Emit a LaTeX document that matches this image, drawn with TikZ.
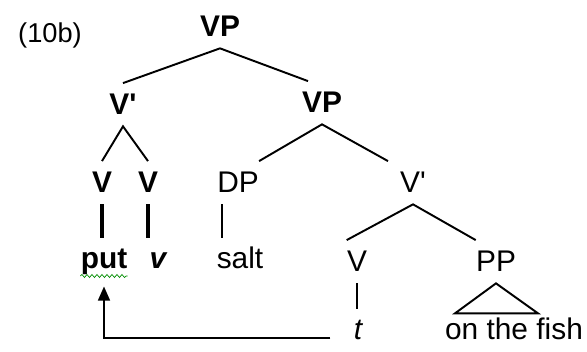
\documentclass[tikz,border=0pt]{standalone}
\usepackage{fontspec}
\setmainfont{Liberation Sans}
\usetikzlibrary{arrows.meta, decorations.pathmorphing}

\begin{document}
\begin{tikzpicture}[
        cat/.style={font=\fontsize{17}{20}\selectfont\bfseries, anchor=base, inner xsep=0pt, inner ysep=0.22cm},
        word/.style={font=\fontsize{17}{20}\selectfont, anchor=base, inner xsep=0pt, inner ysep=0.22cm},
        branch/.style={line width=1.1pt},
        thinbranch/.style={line width=0.6pt},
        headbar/.style={line width=1.8pt},
        trace/.style={line width=0.9pt, -{Triangle[length=0.28cm, width=0.24cm]}},
        squiggle/.style={green!55!black, line width=0.4pt, decorate,
            decoration={snake, amplitude=0.03cm, segment length=0.1cm}}
    ]
        \useasboundingbox (0, 0) rectangle (11.74, 7.04);

        \node[font=\fontsize{15.5}{18}\selectfont, anchor=base west] (ex) at (0.24, 6.18) {(10b)};

        % upper shell
        \node[cat] (vp1) at (4.40, 6.30) {VP};
        \node[cat] (vbar1) at (2.46, 4.74) {V\textquotesingle};
        \node[cat] (vp2) at (6.44, 4.78) {VP};
        \node[cat] (v1) at (2.04, 3.18) {V};
        \node[cat] (v2) at (2.96, 3.18) {V};
        \node[cat] (put) at (2.08, 1.66) {put};
        \node[cat, font=\fontsize{17}{20}\selectfont\bfseries\itshape] (lv) at (3.16, 1.66) {v};

        % lower shell
        \node[word] (dp) at (4.76, 3.18) {DP};
        \node[word] (salt) at (4.80, 1.66) {salt};
        \node[word] (vbar2) at (8.26, 3.18) {V\textquotesingle};
        \node[word] (v3) at (7.14, 1.60) {V};
        \node[word] (pp) at (9.92, 1.60) {PP};
        \node[word, font=\fontsize{17}{20}\selectfont\itshape] (t) at (7.16, 0.24) {t};
        \node[word] (fish) at (10.28, 0.24) {on the fish};

        \draw[branch] (vbar1.north) -- (vp1.south) -- ([xshift=-0.28cm]vp2.north);
        \draw[branch] (v1.north) -- (vbar1.south) -- (v2.north);
        \draw[headbar] (v1.south) -- (v1.south |- put.north);
        \draw[headbar] (v2.south) -- (v2.south |- put.north);
        \draw[branch] (dp.north east) -- (vp2.south) -- ([xshift=-0.50cm]vbar2.north);
        \draw[thinbranch] ([xshift=-0.32cm]dp.south) -- ([xshift=-0.32cm]dp.south |- put.north);
        \draw[branch] (v3.north west) -- (vbar2.south) -- (pp.north west);
        \draw[branch] (v3.south) -- (v3.south |- t.north);
        \draw[branch] (pp.south) -- ++(-0.82, -0.60) -- ++(1.66, 0) -- cycle;

        \draw[squiggle] ([yshift=-0.14cm]put.base west) -- ([yshift=-0.14cm]put.base east);
        \draw[trace] ([shift={(-0.46, 0.04)}]t.base west) -| (put.south);
    \end{tikzpicture}
\end{document}
